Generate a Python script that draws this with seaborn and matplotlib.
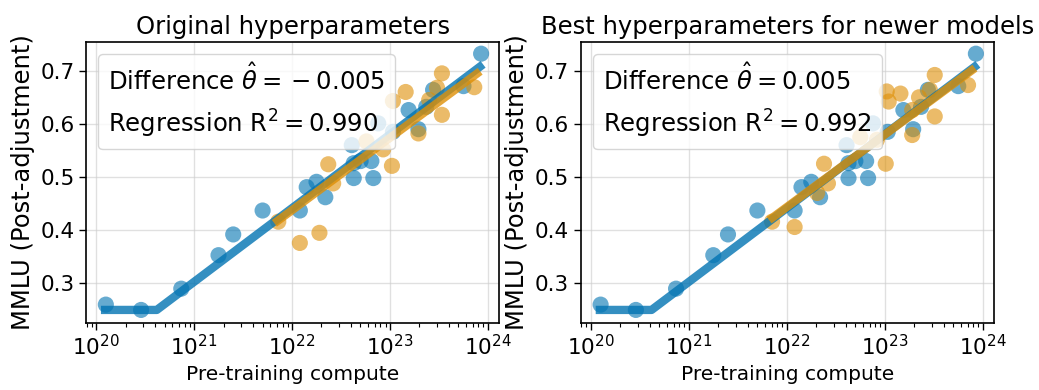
import numpy as np
import pandas as pd
import matplotlib
matplotlib.use("Agg")
import matplotlib.pyplot as plt
from matplotlib.lines import Line2D
import seaborn as sns

# Older models (shared by both panels): log10 pre-training FLOPs and MMLU
old_log_compute = [20.10, 20.46, 20.87, 21.25, 21.40, 21.70, 22.08, 22.15, 22.25, 22.34,
                   22.61, 22.63, 22.70, 22.63, 22.81, 22.83, 22.88, 23.03, 23.19, 23.29,
                   23.37, 23.44, 23.75, 23.93]
old_mmlu = [0.260, 0.250, 0.290, 0.353, 0.392, 0.437, 0.437, 0.481, 0.491, 0.462,
            0.560, 0.526, 0.530, 0.498, 0.530, 0.498, 0.601, 0.585, 0.626, 0.590,
            0.632, 0.664, 0.671, 0.732]

# Newer models evaluated with the original hyperparameters
new_orig_log_compute = [21.86, 22.08, 22.28, 22.37, 22.42, 22.76, 22.93, 23.02, 23.03, 23.16,
                        23.29, 23.40, 23.48, 23.53, 23.53, 23.86]
new_orig_mmlu = [0.416, 0.376, 0.395, 0.524, 0.488, 0.567, 0.552, 0.521, 0.643, 0.660,
                 0.582, 0.645, 0.668, 0.617, 0.695, 0.669]

# Newer models evaluated with the best hyperparameters
new_best_log_compute = [21.85, 22.08, 22.31, 22.38, 22.42, 22.75, 22.92, 23.01, 23.02, 23.04,
                        23.16, 23.28, 23.28, 23.35, 23.46, 23.51, 23.51, 23.85]
new_best_mmlu = [0.416, 0.406, 0.470, 0.525, 0.488, 0.575, 0.570, 0.525, 0.661, 0.642,
                 0.657, 0.579, 0.626, 0.650, 0.664, 0.614, 0.692, 0.673]

# Fitted curves (breakpoints of the piecewise fits)
old_fit_log_compute = [20.05, 20.62, 23.95]
old_fit_mmlu = [0.250, 0.250, 0.712]
new_orig_fit_log_compute = [21.82, 23.92]
new_orig_fit_mmlu = [0.413, 0.699]
new_best_fit_log_compute = [21.82, 23.92]
new_best_fit_mmlu = [0.419, 0.705]

titles = ["Original hyperparameters", "Best hyperparameters for newer models"]
differences = [-0.005, 0.005]
r_squared = [0.990, 0.992]

blue = "#0173b2"
orange = "#de8f05"

sns.set_style("white")
plt.rcParams["font.family"] = ["DejaVu Sans"]
plt.rcParams.update({
    "text.color": "black",
    "axes.labelcolor": "black",
    "xtick.color": "black",
    "ytick.color": "black",
    "axes.edgecolor": "black",
})

fig = plt.figure(figsize=(10.39, 3.9), dpi=100)
ax_left = fig.add_axes([0.0830, 0.1726, 0.3975, 0.7197])
ax_right = fig.add_axes([0.5592, 0.1726, 0.3975, 0.7197])

panels = [
    (ax_left, new_orig_log_compute, new_orig_mmlu, new_orig_fit_log_compute, new_orig_fit_mmlu),
    (ax_right, new_best_log_compute, new_best_mmlu, new_best_fit_log_compute, new_best_fit_mmlu),
]


def fmt_value(v):
    # a leading "{}" makes mathtext space the minus sign as a binary operator
    return f"{{}}-{abs(v):.3f}" if v < 0 else f"{v:.3f}"


for i, (ax, nx, ny, fx, fy) in enumerate(panels):
    old_df = pd.DataFrame({"compute": 10.0 ** np.array(old_log_compute), "mmlu": old_mmlu})
    new_df = pd.DataFrame({"compute": 10.0 ** np.array(nx), "mmlu": ny})
    old_fit = pd.DataFrame({"compute": 10.0 ** np.array(old_fit_log_compute), "mmlu": old_fit_mmlu})
    new_fit = pd.DataFrame({"compute": 10.0 ** np.array(fx), "mmlu": fy})

    sns.scatterplot(data=old_df, x="compute", y="mmlu", ax=ax, color=blue, s=135,
                    alpha=0.6, edgecolor="none", zorder=2)
    sns.scatterplot(data=new_df, x="compute", y="mmlu", ax=ax, color=orange, s=135,
                    alpha=0.6, edgecolor="none", zorder=2)
    sns.lineplot(data=old_fit, x="compute", y="mmlu", ax=ax, color=blue, lw=6,
                 alpha=0.8, zorder=3, solid_capstyle="butt")
    sns.lineplot(data=new_fit, x="compute", y="mmlu", ax=ax, color=orange, lw=6,
                 alpha=0.8, zorder=3, solid_capstyle="butt")

    ax.set_xscale("log")
    ax.set_xlim(10 ** 19.90, 10 ** 24.115)
    ax.set_ylim(0.226, 0.754)
    ax.set_xticks([1e20, 1e21, 1e22, 1e23, 1e24])
    ax.set_yticks([0.3, 0.4, 0.5, 0.6, 0.7])
    ax.grid(True, which="major", color="#cccccc", alpha=0.6, lw=1)
    for sp in ax.spines.values():
        sp.set_visible(True)
        sp.set_color("black")
        sp.set_linewidth(1.2)
    ax.tick_params(axis="both", which="major", direction="out", length=5, width=1,
                   labelsize=15.5, bottom=True, left=True, color="black")
    ax.tick_params(axis="x", which="minor", direction="out", length=3, width=0.8,
                   bottom=True, color="black")
    ax.set_title(titles[i], fontsize=17.5)
    ax.set_xlabel("Pre-training compute", fontsize=14.5)
    ax.set_ylabel("MMLU (Post-adjustment)", fontsize=17.5)

    labels = [f"Difference $\\hat{{\\theta}} = {fmt_value(differences[i])}$",
              f"Regression R$^2 = {r_squared[i]:.3f}$"]
    handles = [Line2D([], [], alpha=0) for _ in labels]
    ax.legend(handles, labels, loc="upper left", fontsize=17.5, handlelength=0,
              handletextpad=0, frameon=True, framealpha=0.8, edgecolor="#cccccc")

fig.savefig("out.png", dpi=100)
